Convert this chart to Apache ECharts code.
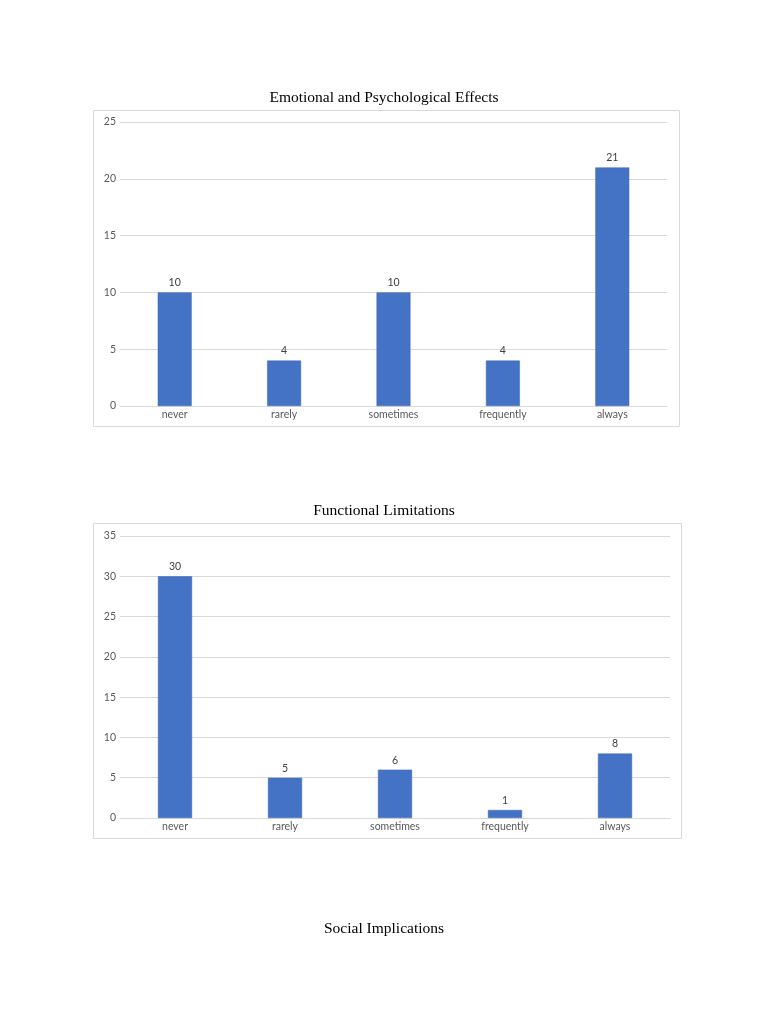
<!DOCTYPE html>
<html>
<head>
<meta charset="utf-8">
<script src="https://cdn.jsdelivr.net/npm/echarts@6/dist/echarts.min.js"></script>
<style>
  html, body { margin: 0; padding: 0; background: #fff; }
  #chart { width: 768px; height: 1024px; }
</style>
</head>
<body>
<div id="chart"></div>
<script>
const categories = ['never', 'rarely', 'sometimes', 'frequently', 'always'];
const emotionalValues = [10, 4, 10, 4, 21];
const functionalValues = [30, 5, 6, 1, 8];
const chartTitles = ['Emotional and Psychological Effects', 'Functional Limitations', 'Social Implications'];

const barColor = '#4472C4';
const labelFont = 'Lato, "Open Sans", sans-serif';

const chart = echarts.init(document.getElementById('chart'));

function xAxisFor(gridIndex) {
  return {
    type: 'category',
    gridIndex: gridIndex,
    data: categories,
    axisLine: { lineStyle: { color: '#d9d9d9' } },
    axisTick: { show: false },
    axisLabel: { color: '#595959', fontSize: 10.5, fontFamily: labelFont, margin: 3 }
  };
}

function yAxisFor(gridIndex, max) {
  return {
    type: 'value',
    gridIndex: gridIndex,
    min: 0,
    max: max,
    interval: 5,
    axisLine: { show: false },
    axisTick: { show: false },
    splitLine: { lineStyle: { color: '#d9d9d9' } },
    axisLabel: { color: '#595959', fontSize: 10.5, fontFamily: labelFont, margin: 4 }
  };
}

function barSeries(index, values) {
  return {
    type: 'bar',
    xAxisIndex: index,
    yAxisIndex: index,
    data: values,
    barWidth: '31%',
    itemStyle: { color: barColor, borderColor: '#3a66b5', borderWidth: 0.5 },
    label: { show: true, position: 'top', color: '#404040', fontSize: 10.5, fontFamily: labelFont, distance: 4 },
    silent: true
  };
}

const titleStyle = { color: '#000', fontSize: 15.5, fontWeight: 'normal', fontFamily: '"Liberation Serif", "DejaVu Serif", serif' };

const option = {
  animation: false,
  title: [
    { text: chartTitles[0], left: 'center', top: 85, textStyle: titleStyle },
    { text: chartTitles[1], left: 'center', top: 498, textStyle: titleStyle },
    { text: chartTitles[2], left: 'center', top: 916, textStyle: titleStyle }
  ],
  graphic: [
    { type: 'rect', shape: { x: 93.5, y: 110.5, width: 586, height: 316 }, style: { fill: 'none', stroke: '#d9d9d9', lineWidth: 1 }, silent: true },
    { type: 'rect', shape: { x: 93.5, y: 523.5, width: 588, height: 315 }, style: { fill: 'none', stroke: '#d9d9d9', lineWidth: 1 }, silent: true }
  ],
  grid: [
    { left: 120, width: 547, top: 122, height: 284 },
    { left: 120, width: 550, top: 536, height: 282 }
  ],
  xAxis: [xAxisFor(0), xAxisFor(1)],
  yAxis: [yAxisFor(0, 25), yAxisFor(1, 35)],
  series: [barSeries(0, emotionalValues), barSeries(1, functionalValues)]
};

chart.setOption(option);
window.addEventListener('resize', () => chart.resize());
</script>
</body>
</html>
